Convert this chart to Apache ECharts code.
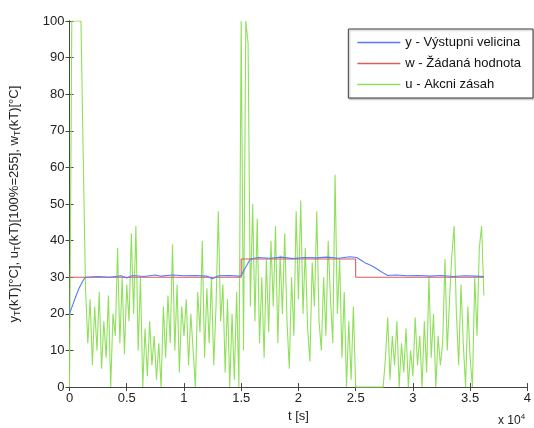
<!DOCTYPE html>
<html><head><meta charset="utf-8">
<script src="https://cdn.jsdelivr.net/npm/echarts@6/dist/echarts.min.js"></script>
<style>html,body{margin:0;padding:0;background:#fff}#c{width:534px;height:428px}</style>
</head><body><div id="c"></div>
<script>
// x axis tick labels (in units of 10^4 s)
const xTickLabels = ['0','0.5','1','1.5','2','2.5','3','3.5','4'];
const seriesNames = ['y - Výstupni velicina','w - Žádaná hodnota','u - Akcni zásah'];
// w : setpoint (breakpoints)
const wTime = [0, 15000, 15000, 25000, 25000, 36200];
const wVal  = [30, 30, 35, 35, 30, 30];
// y : output (breakpoints)
const yTime = [0, 400, 800, 1200, 1400, 2500, 3500, 4500, 5000, 5500, 6500, 7500, 8000, 9000, 10000, 11000, 12000, 12500, 13000, 14000, 14800,
               15000, 15400, 15800, 16500, 17500, 18500, 19500, 20500, 21500, 22500, 23500, 24500, 25100,
               25500, 25900, 26300, 26700, 27100, 27500, 27800, 28500, 29500, 30500, 31500, 32500, 33500, 34500, 35500, 36200];
const yVal  = [20, 23.5, 26.8, 29.2, 30, 30.2, 30, 30.4, 29.8, 30.5, 30.2, 30.6, 30.3, 30.6, 30.4, 30.5, 30.3, 29.6, 30.4, 30.5, 30.3,
               30.5, 32.8, 35, 35.4, 35.2, 35.5, 35.1, 35.4, 35.3, 35.5, 35.2, 35.6, 35.4,
               34.6, 33.8, 33.3, 32.6, 31.8, 31.0, 30.5, 30.6, 30.4, 30.5, 30.3, 30.5, 30.2, 30.4, 30.3, 30.2];
// u : control action, one sample every 200 s
const uStep = 200;
const uVal = [0,100,100,100,100,100,63,27,12,24,6,22,10,26,5,18,8,25,0,20,14,38,12,30,9,28,
  18,42,20,44,10,30,0,16,3,18,6,14,2,12,0,22,8,25,12,39,10,28,4,22,14,
  24,6,20,10,0,26,15,40,8,27,12,30,6,22,48,18,28,4,24,0,20,2,26,0,
  100,10,100,94,22,50,18,46,12,30,8,
  35,15,40,22,44,12,36,20,42,18,5,30,14,48,24,51,20,38,16,7,34,22,48,18,10,30,14,40,24,12,58,20,35,8,26,0,18,2,22,0,
  0,0,0,0,0,0,0,0,0,0,0,0,
  8,19,2,14,6,18,0,12,4,16,0,10,3,19,6,14,0,
  18,4,30,8,20,0,14,6,12,35,10,
  24,36,44,20,6,28,12,0,22,8,0,30,14,38,44,25];

const pair = (ts, vs) => ts.map((t, i) => [t, vs[i]]);
const uData = uVal.map((v, i) => [i * uStep, v]);

const chart = echarts.init(document.getElementById('c'));
const axisCol = '#444';
const font = 'Liberation Sans, Arial, sans-serif';
chart.setOption({
  animation: false,
  backgroundColor: '#fff',
  grid: {left: 68, right: 2, top: 21, bottom: 40, containLabel: false},
  legend: {
    orient: 'vertical', right: 1, top: 29,
    data: seriesNames.map(n => ({name: n, icon: 'rect'})),
    itemWidth: 43, itemHeight: 1.5, itemGap: 8,
    padding: [7, 12, 7, 9],
    borderColor: '#444', borderWidth: 1, backgroundColor: '#fff',
    textStyle: {fontFamily: font, fontSize: 13, color: '#111', height: 12, lineHeight: 12},
    shadowColor: 'rgba(0,0,0,0.3)', shadowBlur: 2, shadowOffsetX: 1, shadowOffsetY: 1
  },
  xAxis: [{
    type: 'value', min: 0, max: 40000, interval: 5000,
    name: 't [s]', nameLocation: 'middle', nameGap: 21,
    nameTextStyle: {fontFamily: font, fontSize: 13, color: '#222'},
    axisLine: {show: true, lineStyle: {color: axisCol}},
    axisTick: {inside: true, length: 4, lineStyle: {color: axisCol}},
    axisLabel: {fontFamily: font, fontSize: 13, color: '#222', margin: 5,
      formatter: v => xTickLabels[Math.round(v / 5000)]},
    splitLine: {show: false}
  }, {
    type: 'value', min: 0, max: 40000, interval: 5000, position: 'top',
    axisLine: {show: true, lineStyle: {color: axisCol}},
    axisTick: {inside: true, length: 4, lineStyle: {color: axisCol}},
    axisLabel: {show: false}, splitLine: {show: false}
  }],
  yAxis: [{
    type: 'value', min: 0, max: 100, interval: 10,
    name: 'y{s|T}(kT)[°C], u{s|T}(kT)[100%=255], w{s|T}(kT)[°C]',
    nameLocation: 'middle', nameGap: 47, nameRotate: 90,
    nameTextStyle: {fontFamily: font, fontSize: 13, color: '#222',
      rich: {s: {fontFamily: font, fontSize: 9, color: '#222', verticalAlign: 'bottom', padding: [7, 0, 0, 0]}}},
    axisLine: {show: true, lineStyle: {color: axisCol}},
    axisTick: {inside: true, length: 4, lineStyle: {color: axisCol}},
    axisLabel: {fontFamily: font, fontSize: 13, color: '#222', margin: 5},
    splitLine: {show: false}
  }, {
    type: 'value', min: 0, max: 100, interval: 10, position: 'right',
    axisLine: {show: true, lineStyle: {color: axisCol}},
    axisTick: {inside: true, length: 4, lineStyle: {color: axisCol}},
    axisLabel: {show: false}, splitLine: {show: false}
  }],
  graphic: [{
    type: 'text', left: 498, top: 413,
    style: {text: 'x 10{p|4}', font: '12px ' + font, fill: '#222',
      rich: {p: {fontSize: 8, verticalAlign: 'top', padding: [0, 0, 8, 0], fill: '#222'}}}
  }],
  series: [{
    name: seriesNames[2], type: 'line', data: uData, symbol: 'none', z: 1,
    lineStyle: {color: '#8fe05a', width: 1.1}, itemStyle: {color: '#8fe05a'}
  }, {
    name: seriesNames[1], type: 'line', data: pair(wTime, wVal), symbol: 'none', z: 3,
    lineStyle: {color: '#e05a5a', width: 1.1}, itemStyle: {color: '#e05a5a'}
  }, {
    name: seriesNames[0], type: 'line', data: pair(yTime, yVal), symbol: 'none', z: 4,
    lineStyle: {color: '#5a78ff', width: 1.1}, itemStyle: {color: '#5a78ff'}
  }]
});
</script></body></html>
